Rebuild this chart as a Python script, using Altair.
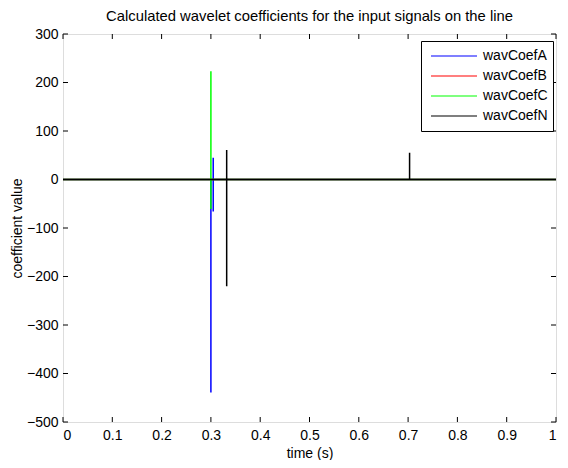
import altair as alt
import pandas as pd

series = ["wavCoefA", "wavCoefB", "wavCoefC", "wavCoefN"]
colors = ["#0000ff", "#ff0000", "#00ff00", "#000000"]

tA = [0, 0.300, 0.300, 0.300, 0.3047, 0.3047, 0.3047, 0.3047, 1]
vA = [0, 0, -439, 0, 0, 45, -66, 0, 0]
tB = [0, 1]
vB = [0, 0]
tC = [0, 0.300, 0.300, 0.300, 0.300, 1]
vC = [0, 0, 223, -61, 0, 0]
tN = [0, 0.332, 0.332, 0.332, 0.332, 0.703, 0.703, 0.703, 1]
vN = [0, 0, 61, -220, 0, 0, 55, 0, 0]

x_ticks = [0, 0.1, 0.2, 0.3, 0.4, 0.5, 0.6, 0.7, 0.8, 0.9, 1]
y_ticks = [-500, -400, -300, -200, -100, 0, 100, 200, 300]

rows = []
for name, ts, vs in zip(series, [tA, tB, tC, tN], [vA, vB, vC, vN]):
    for i, (t, v) in enumerate(zip(ts, vs)):
        rows.append({"series": name, "t": t, "v": v, "i": i})
df = pd.DataFrame(rows)

W, H = 493, 388
FONT = "Liberation Sans"
FS = 14
TL = 5

xs = alt.Scale(domain=[0, 1], nice=False, zero=False)
ys = alt.Scale(domain=[-500, 300], nice=False, zero=False)

lines = alt.Chart(df).mark_line(strokeWidth=1.5).encode(
    x=alt.X("t:Q", scale=xs, title="time (s)",
            axis=alt.Axis(values=x_ticks, format="~g", domain=False, ticks=False, grid=False,
                          labelPadding=6, labelFontSize=FS, titleFontSize=FS, titlePadding=4,
                          titleFontWeight="normal", labelColor="black", titleColor="black",
                          labelFont=FONT, titleFont=FONT)),
    y=alt.Y("v:Q", scale=ys, title="coefficient value",
            axis=alt.Axis(values=y_ticks, format="d", domain=False, ticks=False, grid=False,
                          labelPadding=5, labelFontSize=FS, titleFontSize=FS, titlePadding=2,
                          titleFontWeight="normal", labelColor="black", titleColor="black",
                          labelFont=FONT, titleFont=FONT)),
    color=alt.Color("series:N", scale=alt.Scale(domain=series, range=colors),
                    legend=alt.Legend(orient="none", legendX=358, legendY=7, title=None,
                                      symbolType="stroke", symbolSize=2116, symbolStrokeWidth=1.2,
                                      strokeColor="black", fillColor="white", padding=5,
                                      symbolOffset=4, clipHeight=20, rowPadding=0,
                                      labelFontSize=FS, labelFont=FONT, labelOffset=5,
                                      labelColor="black")),
    order=alt.Order("i:Q"),
)

xt = pd.DataFrame({"t": x_ticks})
yt = pd.DataFrame({"v": y_ticks})

tick_bottom = alt.Chart(xt).mark_rule(color="black", strokeWidth=1).encode(
    x=alt.X("t:Q", scale=xs), y=alt.value(H), y2=alt.value(H - TL))
tick_top = alt.Chart(xt).mark_rule(color="black", strokeWidth=1).encode(
    x=alt.X("t:Q", scale=xs), y=alt.value(0), y2=alt.value(TL))
tick_left = alt.Chart(yt).mark_rule(color="black", strokeWidth=1).encode(
    y=alt.Y("v:Q", scale=ys), x=alt.value(0), x2=alt.value(TL))
tick_right = alt.Chart(yt).mark_rule(color="black", strokeWidth=1).encode(
    y=alt.Y("v:Q", scale=ys), x=alt.value(W), x2=alt.value(W - TL))

chart = alt.layer(lines, tick_bottom, tick_top, tick_left, tick_right).properties(
    width=W, height=H,
    title=alt.Title("Calculated wavelet coefficients for the input signals on the line",
                    fontSize=14.8, font=FONT, fontWeight="normal", color="black",
                    anchor="middle", baseline="alphabetic", offset=0, dy=9, frame="group"),
    autosize=alt.AutoSizeParams(type="none"),
    padding={"left": 55, "top": 26, "right": 4, "bottom": 38},
).configure_view(stroke="black", strokeWidth=1).configure(background="white")

chart.save("out.html", embed_options={"renderer": "svg", "actions": False})
